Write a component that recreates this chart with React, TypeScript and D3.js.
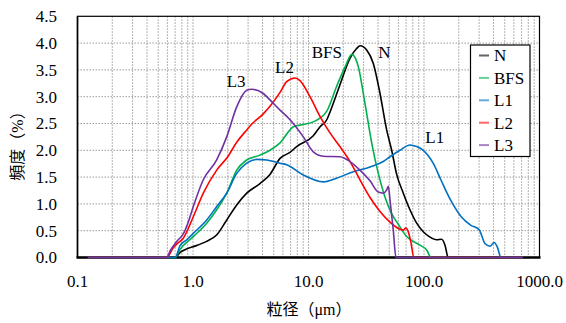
import React, { useEffect, useRef } from 'react';
import * as d3 from 'd3';

// 粒径 (µm) と 頻度 (%)
const nSize = [0.123, 0.70, 0.78, 0.88, 1.0, 1.31, 1.6, 1.96, 2.39, 2.92, 3.8, 4.64, 5.67, 6.9, 7.9, 11.0, 12.6, 14.4, 15.4, 18.7, 22.9, 26.1, 28.0, 31.9, 36.4, 41.6, 47.5, 52.5, 58.0, 66.2, 75.6, 86.4, 98.6, 112.7, 128.8, 142, 152, 162, 716];
const nFreq = [0, 0, 0.10, 0.16, 0.20, 0.30, 0.42, 0.70, 0.98, 1.20, 1.38, 1.55, 1.85, 1.96, 2.07, 2.27, 2.44, 2.57, 2.72, 3.22, 3.72, 3.90, 3.95, 3.87, 3.62, 3.06, 2.38, 2.0, 1.55, 1.20, 0.89, 0.64, 0.48, 0.38, 0.33, 0.34, 0.23, 0, 0];

const bfsSize = [0.123, 0.70, 0.772, 1.006, 1.314, 1.604, 1.958, 2.39, 2.92, 3.8, 4.64, 5.67, 7.4, 8.44, 11.0, 14.4, 17.5, 20.7, 23.7, 27.0, 30.8, 35.3, 40.2, 45.9, 52.5, 59.9, 70.8, 92.3, 105.5, 115, 716];
const bfsFreq = [0, 0, 0.15, 0.39, 0.64, 0.89, 1.20, 1.63, 1.82, 1.91, 2.0, 2.14, 2.44, 2.47, 2.53, 2.73, 3.19, 3.55, 3.79, 3.56, 2.88, 2.13, 1.57, 1.13, 0.82, 0.62, 0.39, 0.23, 0.14, 0, 0];

const l1Size = [0.123, 0.70, 0.772, 0.882, 1.006, 1.314, 1.604, 1.958, 2.39, 2.92, 3.56, 4.35, 5.67, 6.47, 9.02, 13.4, 17.5, 24.4, 34.1, 44.4, 50.8, 61.9, 75.6, 86.4, 98.6, 120, 140, 172, 210, 255, 300, 337, 373, 404, 431, 464, 716];
const l1Freq = [0, 0, 0.22, 0.33, 0.45, 0.70, 0.95, 1.20, 1.57, 1.76, 1.83, 1.82, 1.76, 1.73, 1.54, 1.41, 1.48, 1.60, 1.69, 1.79, 1.88, 2.0, 2.10, 2.07, 2.0, 1.76, 1.45, 1.05, 0.76, 0.60, 0.52, 0.26, 0.21, 0.28, 0.20, 0, 0];

const l2Size = [0.123, 0.59, 0.675, 0.722, 0.824, 1.006, 1.228, 1.604, 2.0, 2.39, 2.92, 3.2, 4.06, 4.64, 5.67, 6.47, 7.64, 8.44, 10.3, 12.6, 15.4, 18.7, 22.9, 27.9, 34.1, 41.6, 50.8, 58.0, 66.2, 69.4, 73.1, 76.7, 81.9, 716];
const l2Freq = [0, 0, 0.18, 0.25, 0.36, 0.76, 1.20, 1.63, 1.88, 2.15, 2.38, 2.48, 2.68, 2.82, 3.08, 3.28, 3.35, 3.30, 3.0, 2.63, 2.32, 2.07, 1.79, 1.45, 1.12, 0.86, 0.66, 0.56, 0.51, 0.55, 0.48, 0.30, 0, 0];

const l3Size = [0.123, 0.59, 0.64, 0.722, 0.824, 0.93, 1.006, 1.228, 1.604, 1.958, 2.39, 2.92, 3.22, 4.06, 4.64, 5.67, 6.92, 9.02, 11.0, 13.4, 18.7, 22.9, 27.9, 34.1, 40.2, 44.4, 47.5, 49.1, 50.8, 54.2, 57.2, 716];
const l3Freq = [0, 0, 0.14, 0.30, 0.44, 0.72, 0.95, 1.45, 1.82, 2.25, 2.81, 3.12, 3.14, 3.06, 2.94, 2.75, 2.57, 2.25, 1.97, 1.89, 1.88, 1.79, 1.63, 1.43, 1.22, 1.20, 1.26, 1.33, 1.07, 0.51, 0, 0];

const seriesNames = ['N', 'BFS', 'L1', 'L2', 'L3'];
const seriesSizes = [nSize, bfsSize, l1Size, l2Size, l3Size];
const seriesFreqs = [nFreq, bfsFreq, l1Freq, l2Freq, l3Freq];
const seriesColors = ['#000000', '#00b050', '#0070c0', '#ff0000', '#7030a0'];

const xTicks = [0.1, 1, 10, 100, 1000];
const yTicks = [0, 0.5, 1, 1.5, 2, 2.5, 3, 3.5, 4, 4.5];

// 曲線ラベル (データ座標)
const labelNames = ['L3', 'L2', 'BFS', 'N', 'L1'];
const labelSizes = [2.36, 6.2, 14.4, 45.5, 124];
const labelFreqs = [3.19, 3.44, 3.72, 3.72, 2.13];

const serif = '"Liberation Serif", "Times New Roman", "Noto Sans CJK JP", serif';

const App = () => {
  const svgRef = useRef<SVGSVGElement>(null);

  useEffect(() => {
    document.body.style.margin = '0';
    const svg = d3.select(svgRef.current);
    svg.selectAll('*').remove();

    const left = 77.5, right = 539.5, top = 16.3, bottom = 257.5;
    const x = d3.scaleLog().domain([0.1, 1000]).range([left, right]);
    const y = d3.scaleLinear().domain([0, 4.5]).range([bottom, top]);

    svg.append('rect').attr('width', 566).attr('height', 323).attr('fill', '#fff');

    // グリッド
    const minor: number[] = [];
    for (let e = -1; e <= 2; e++) {
      for (let k = 1; k <= 9; k++) {
        const v = k * Math.pow(10, e);
        if (v > 0.1) minor.push(v);
      }
    }
    svg.append('g').selectAll('line').data(minor).enter().append('line')
      .attr('x1', d => x(d)).attr('x2', d => x(d))
      .attr('y1', top).attr('y2', bottom)
      .attr('stroke', '#9a9a9a').attr('stroke-width', 1)
      .attr('stroke-dasharray', '1.5,1.5');
    svg.append('g').selectAll('line').data(yTicks.slice(1, -1)).enter().append('line')
      .attr('x1', left).attr('x2', right)
      .attr('y1', d => y(d)).attr('y2', d => y(d))
      .attr('stroke', '#9a9a9a').attr('stroke-width', 1)
      .attr('stroke-dasharray', '1.5,1.5');

    // 枠
    svg.append('rect')
      .attr('x', left).attr('y', top)
      .attr('width', right - left).attr('height', bottom - top)
      .attr('fill', 'none').attr('stroke', '#000').attr('stroke-width', 1.2);
    svg.append('line').attr('x1', left).attr('x2', left).attr('y1', top).attr('y2', bottom)
      .attr('stroke', '#000').attr('stroke-width', 1.6);
    svg.append('line').attr('x1', left - 1).attr('x2', right + 1).attr('y1', bottom).attr('y2', bottom)
      .attr('stroke', '#000').attr('stroke-width', 2.4);

    // 系列
    const line = d3.line<[number, number]>()
      .x(d => x(d[0]))
      .y(d => y(d[1]))
      .curve(d3.curveMonotoneX);
    seriesNames.forEach((name, i) => {
      const pts = seriesSizes[i].map((s, j) => [s, seriesFreqs[i][j]] as [number, number]);
      svg.append('path')
        .attr('d', line(pts))
        .attr('fill', 'none')
        .attr('stroke', seriesColors[i])
        .attr('stroke-width', 1.6);
    });

    // 軸ラベル
    svg.append('g').selectAll('text').data(yTicks).enter().append('text')
      .attr('x', 57).attr('y', d => y(d)).attr('dy', '0.35em')
      .attr('text-anchor', 'end')
      .style('font-family', serif).style('font-size', '17px')
      .text(d => d.toFixed(1));
    svg.append('g').selectAll('text').data(xTicks).enter().append('text')
      .attr('x', d => x(d)).attr('y', 286.5)
      .attr('text-anchor', 'middle')
      .style('font-family', serif).style('font-size', '17px')
      .text(d => d.toFixed(1));

    svg.append('text')
      .attr('transform', 'translate(23,142) rotate(-90)')
      .attr('text-anchor', 'middle')
      .style('font-family', serif).style('font-size', '16px')
      .text('頻度（%）');
    svg.append('text')
      .attr('x', 309).attr('y', 315)
      .attr('text-anchor', 'middle')
      .style('font-family', serif).style('font-size', '16px')
      .text('粒径（μm）');

    // 曲線ラベル
    labelNames.forEach((t, i) => {
      svg.append('text')
        .attr('x', x(labelSizes[i])).attr('y', y(labelFreqs[i]))
        .attr('text-anchor', 'middle')
        .style('font-family', serif).style('font-size', '17px')
        .text(t);
    });

    // 凡例
    const lg = svg.append('g');
    lg.append('rect')
      .attr('x', 470.5).attr('y', 45).attr('width', 59.5).attr('height', 111.5)
      .attr('fill', '#fff').attr('stroke', '#000').attr('stroke-width', 1.2);
    seriesNames.forEach((name, i) => {
      const ly = 55.5 + i * 22.4;
      lg.append('line')
        .attr('x1', 479).attr('x2', 489).attr('y1', ly).attr('y2', ly)
        .attr('stroke', seriesColors[i]).attr('stroke-width', 2).attr('opacity', 0.6);
      lg.append('text')
        .attr('x', 494).attr('y', ly).attr('dy', '0.35em')
        .style('font-family', serif).style('font-size', '17px')
        .text(name);
    });
  }, []);

  return <svg ref={svgRef} width={566} height={323} style={{ display: 'block' }}></svg>;
};

export default App;
